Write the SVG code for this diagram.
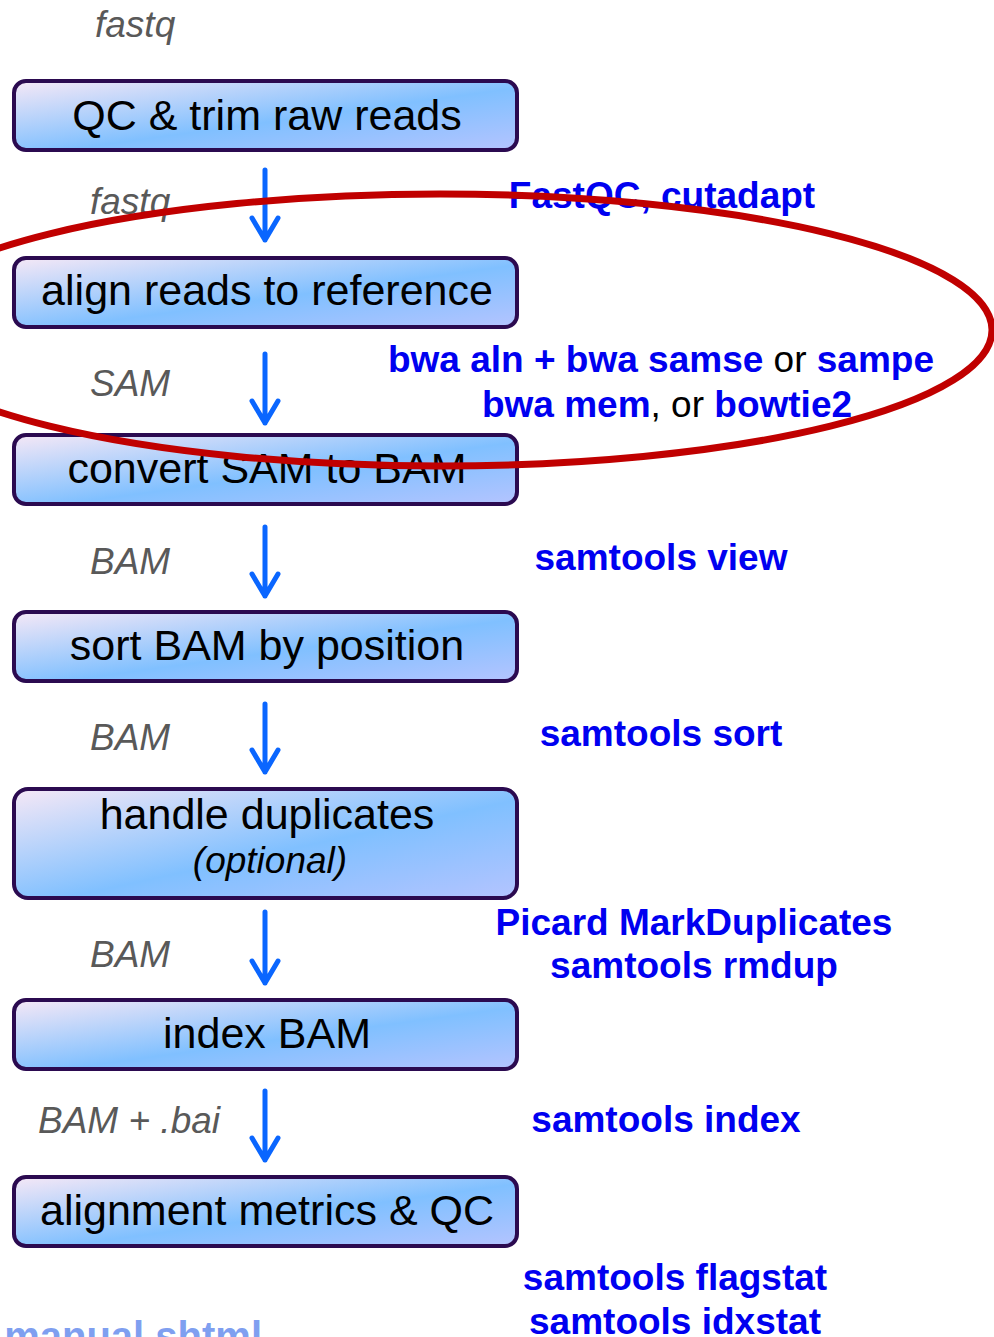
<svg xmlns="http://www.w3.org/2000/svg" width="994" height="1337" viewBox="0 0 994 1337">
<defs>
<linearGradient id="boxgrad" x1="0" y1="0" x2="1" y2="1">
<stop offset="0" stop-color="#f6e8f6"/>
<stop offset="0.55" stop-color="#80c0ff"/>
<stop offset="1" stop-color="#b4c4ff"/>
</linearGradient>
</defs>
<style>
.box{fill:url(#boxgrad);stroke:#2b0a50;stroke-width:4}
.bt{font-family:"Liberation Sans",Arial,sans-serif;font-size:43px;fill:#000;text-anchor:middle}
.lab{font-family:"Liberation Sans",Arial,sans-serif;font-size:37px;font-style:italic;fill:#595959}
.tool{font-family:"Liberation Sans",Arial,sans-serif;font-size:37px;font-weight:bold;fill:#0000f0;text-anchor:middle}
.or{font-weight:normal;fill:#000}
.arr{fill:none;stroke:#0a66ff;stroke-width:5;stroke-linecap:round;stroke-linejoin:round}
</style>
<rect width="994" height="1337" fill="#ffffff"/>

<text class="lab" x="95" y="37">fastq</text>

<g id="n1"><rect class="box" x="14" y="81" width="503" height="69" rx="12"/><text class="bt" x="267" y="130">QC &amp; trim raw reads</text></g>
<g id="n2"><rect class="box" x="14" y="258" width="503" height="69" rx="12"/><text class="bt" x="267" y="305">align reads to reference</text></g>
<g id="n3"><rect class="box" x="14" y="435" width="503" height="69" rx="12"/><text class="bt" x="267" y="483">convert SAM to BAM</text></g>
<g id="n4"><rect class="box" x="14" y="612" width="503" height="69" rx="12"/><text class="bt" x="267" y="660">sort BAM by position</text></g>
<g id="n5"><rect class="box" x="14" y="789" width="503" height="109" rx="14"/><text class="bt" x="267" y="829">handle duplicates</text><text class="bt" x="270" y="873" style="font-size:37px;font-style:italic">(optional)</text></g>
<g id="n6"><rect class="box" x="14" y="1000" width="503" height="69" rx="12"/><text class="bt" x="267" y="1048">index BAM</text></g>
<g id="n7"><rect class="box" x="14" y="1177" width="503" height="69" rx="12"/><text class="bt" x="267" y="1225">alignment metrics &amp; QC</text></g>

<g id="connectors">
<path class="arr" d="M265 170V240M252 218L265 240L278 218"/>
<path class="arr" d="M265 354V423M252 401L265 423L278 401"/>
<path class="arr" d="M265 527V596M252 574L265 596L278 574"/>
<path class="arr" d="M265 704V772M252 750L265 772L278 750"/>
<path class="arr" d="M265 912V983M252 961L265 983L278 961"/>
<path class="arr" d="M265 1091V1160M252 1138L265 1160L278 1138"/>
</g>

<g id="labels">
<text class="lab" x="90" y="214">fastq</text>
<text class="lab" x="90" y="396">SAM</text>
<text class="lab" x="90" y="574">BAM</text>
<text class="lab" x="90" y="750">BAM</text>
<text class="lab" x="90" y="967">BAM</text>
<text class="lab" x="38" y="1133">BAM + .bai</text>
</g>

<g id="tools">
<text class="tool" x="662" y="208">FastQC, cutadapt</text>
<text class="tool" x="661" y="372">bwa aln + bwa samse <tspan class="or">or</tspan> sampe</text>
<text class="tool" x="667" y="417">bwa mem<tspan class="or">, or</tspan> bowtie2</text>
<text class="tool" x="661" y="570">samtools view</text>
<text class="tool" x="661" y="746">samtools sort</text>
<text class="tool" x="694" y="935">Picard MarkDuplicates</text>
<text class="tool" x="694" y="978">samtools rmdup</text>
<text class="tool" x="666" y="1132">samtools index</text>
<text class="tool" x="675" y="1290">samtools flagstat</text>
<text class="tool" x="675" y="1334">samtools idxstat</text>
</g>

<text x="262" y="1350" style="font-family:'Liberation Sans',Arial,sans-serif;font-size:40px;font-weight:bold;fill:#7f9ff0;text-anchor:end">manual.shtml</text>

<ellipse cx="440" cy="330" rx="552" ry="136" fill="none" stroke="#c00000" stroke-width="7"/>
</svg>
